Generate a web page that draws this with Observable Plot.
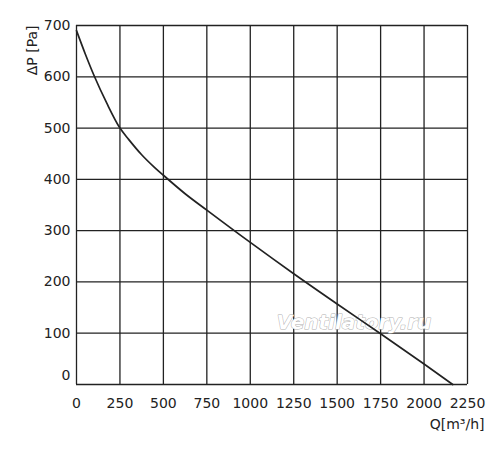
<!DOCTYPE html>
<html>
<head>
<meta charset="utf-8">
<script src="https://cdn.jsdelivr.net/npm/d3@7"></script>
<script src="https://cdn.jsdelivr.net/npm/@observablehq/plot@0.6"></script>
<style>
  html, body { margin: 0; padding: 0; background: #fff; }
  #chart { width: 500px; height: 454px; }
</style>
</head>
<body>
<div id="chart"></div>
<script>
const flowQ = [0, 50, 104, 175, 250, 300, 375, 450, 500, 625, 750, 1000, 1250, 1500, 1750, 2000, 2165];
const pressureP = [690, 645, 600, 548, 500, 478, 448, 423, 408, 372, 340, 277, 216, 157, 99, 40, 0];
const xTicks = [0, 250, 500, 750, 1000, 1250, 1500, 1750, 2000, 2250];
const yTicks = [0, 100, 200, 300, 400, 500, 600, 700];
const xLabel = "Q[m³/h]";
const yLabel = "ΔP [Pa]";
const watermark = "Ventilatory.ru";

const curve = flowQ.map((q, i) => ({q, p: pressureP[i]}));
const ink = "#222";
const font = "DejaVu Sans, Verdana, sans-serif";

const chart = Plot.plot({
  width: 500,
  height: 454,
  marginLeft: 76,
  marginRight: 33,
  marginTop: 25,
  marginBottom: 70,
  style: {fontFamily: font, fontSize: "14px", color: ink, background: "#fff"},
  x: {domain: [0, 2250]},
  y: {domain: [0, 700]},
  marks: [
    Plot.ruleX(xTicks, {stroke: ink, strokeWidth: 1.3}),
    Plot.ruleY(yTicks, {stroke: ink, strokeWidth: 1.3}),
    Plot.text([watermark], {
      x: () => 1597, y: () => 121, text: d => d,
      fontSize: 20, fontWeight: "bold", fontStyle: "italic",
      fill: "#fff", stroke: "#b0b0b0", strokeWidth: 1, fontFamily: font
    }),
    Plot.line(curve, {x: "q", y: "p", curve: "monotone-x", stroke: ink, strokeWidth: 1.7}),
    Plot.axisX({ticks: xTicks, tickSize: 0, tickPadding: 14, tickFormat: d => String(d), fontSize: 14, label: null}),
    Plot.axisY({ticks: yTicks.filter(d => d > 0), tickSize: 0, tickPadding: 6, tickFormat: d => String(d), fontSize: 14, label: null}),
    Plot.axisY({ticks: [0], tickSize: 0, tickPadding: 6, dy: -9, tickFormat: d => String(d), fontSize: 14, label: null}),
    Plot.text([xLabel], {frameAnchor: "bottom-right", text: d => d, textAnchor: "end", dx: 17, dy: 44, fontSize: 14, fill: ink}),
    Plot.text([yLabel], {frameAnchor: "top-left", text: d => d, rotate: -90, textAnchor: "end", dx: -49, dy: 0, fontSize: 14, fill: ink})
  ]
});
document.getElementById("chart").appendChild(chart);
</script>
</body>
</html>
